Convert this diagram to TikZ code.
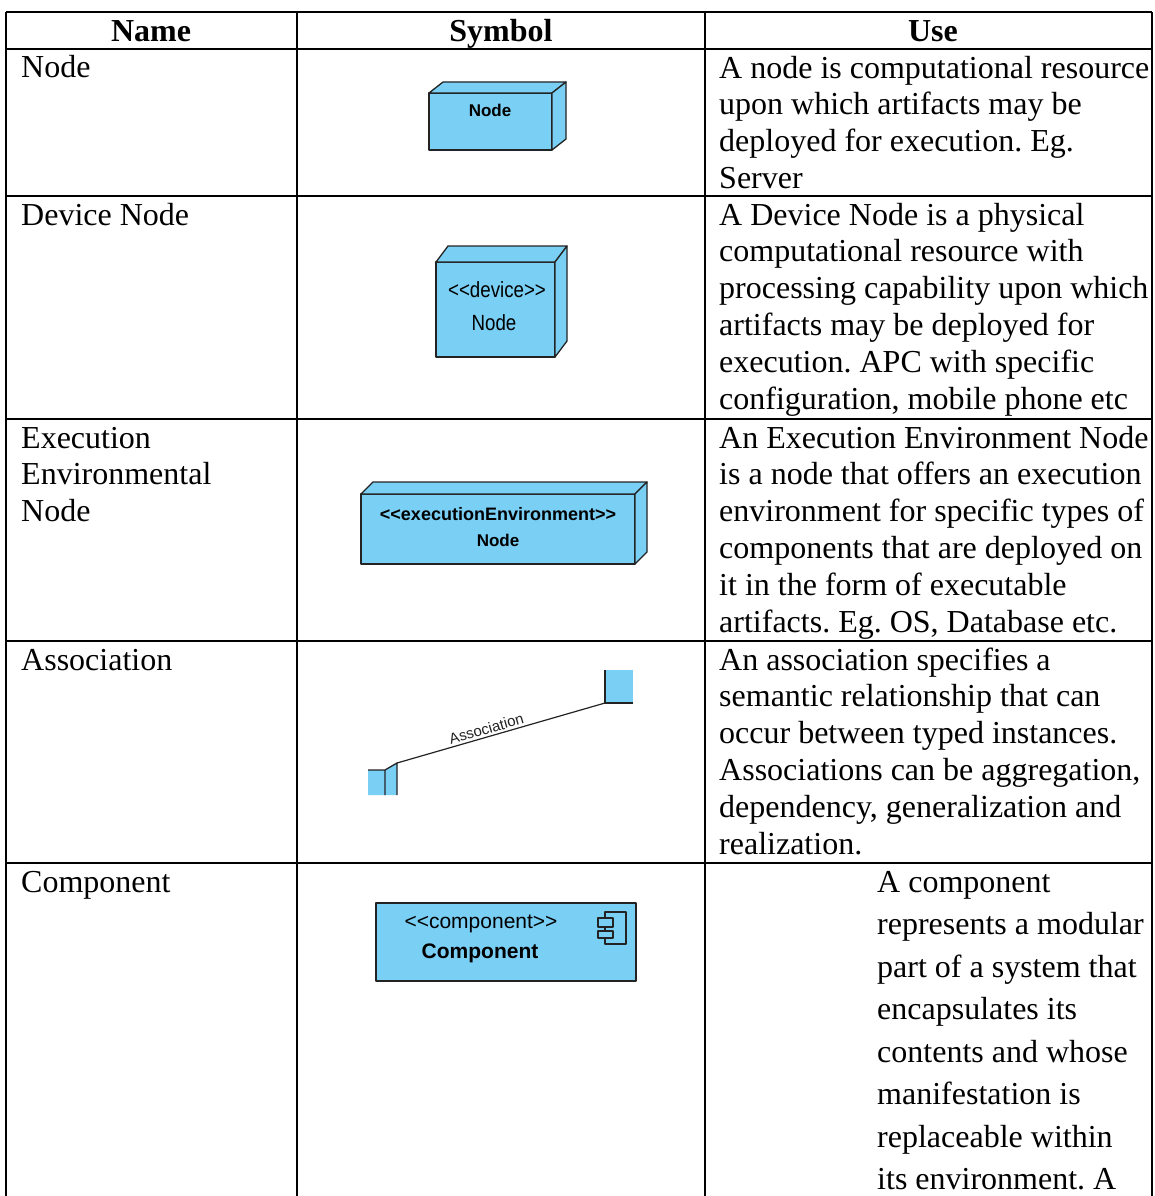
\documentclass[tikz,border=0pt]{standalone}
\usepackage{fontspec}
\usepackage{graphicx}
\usepackage{xcolor}
\setmainfont{Liberation Serif}
\newfontfamily\umlfont{Liberation Sans}
\usetikzlibrary{positioning}
\definecolor{nodeblue}{RGB}{122,207,245}
\definecolor{umledge}{RGB}{35,35,35}
\newcommand{\stereoL}{<\kern0pt<}
\newcommand{\stereoR}{>\kern0pt>}
\frenchspacing

\begin{document}
\begin{tikzpicture}[x=1pt,y=-1pt,
		tableline/.style={draw=black, line width=1.6pt},
		headcell/.style={font=\fontsize{32}{36.8}\selectfont\bfseries, inner sep=0pt, anchor=base},
		% multi-line cells sit on the baseline of their last line
		cell/.style={font=\fontsize{32}{36.8}\selectfont, inner sep=0pt, anchor=base west, align=left},
		umlshape/.style={fill=nodeblue, draw=umledge, line width=1.3pt, line join=round},
		umltext/.style={font=\umlfont\fontsize{#1}{#1}\selectfont, inner sep=0pt},
		umlbold/.style={font=\umlfont\bfseries\fontsize{#1}{#1}\selectfont, inner sep=0pt}]
		\useasboundingbox (0,0) rectangle (1154,1196);

		% table rules
		\draw[tableline] (6,12) -- (1152,12) (6,49) -- (1152,49) (6,196) -- (1152,196)
			(6,419) -- (1152,419) (6,641) -- (1152,641) (6,863) -- (1152,863);
		\draw[tableline] (6,12) -- (6,1200) (297,12) -- (297,1200)
			(705,12) -- (705,1200) (1152,12) -- (1152,1200);

		% header
		\node[headcell] (hname) at (151,42) {Name};
		\node[headcell] (hsymbol) at (501,42) {Symbol};
		\node[headcell] (huse) at (933,42) {Use};

		% names
		\node[cell] (nnode) at (21,78) {Node};
		\node[cell] (ndevice) at (21,225) {Device Node};
		\node[cell] (nexec) at (21,521.6) {Execution\\Environmental\\Node};
		\node[cell] (nassoc) at (21,670) {Association};
		\node[cell] (ncomp) at (21,892) {Component};

		% uses
		\node[cell] (unode) at (719,188.4) {A node is computational resource\\upon which artifacts may be\\deployed for execution. Eg.\\Server};
		\node[cell] (udevice) at (719,409) {A Device Node is a physical\\computational resource with\\processing capability upon which\\artifacts may be deployed for\\execution. APC with specific\\configuration, mobile phone etc};
		\node[cell] (uexec) at (719,632) {An Execution Environment Node\\is a node that offers an execution\\environment for specific types of\\components that are deployed on\\it in the form of executable\\artifacts. Eg. OS, Database etc.};
		\node[cell] (uassoc) at (719,854) {An association specifies a\\semantic relationship that can\\occur between typed instances.\\Associations can be aggregation,\\dependency, generalization and\\realization.};
		\node[cell, font=\fontsize{32}{42.5}\selectfont] (ucomp) at (877,1189.5) {A component\\represents a modular\\part of a system that\\encapsulates its\\contents and whose\\manifestation is\\replaceable within\\its environment. A};

		% node symbol
		\draw[umlshape] (429,93) rectangle (552,150);
		\draw[umlshape] (429,93) -- (443,82) -- (566,82) -- (552,93) -- cycle;
		\draw[umlshape] (552,93) -- (566,82) -- (566,139) -- (552,150) -- cycle;
		\node[umlbold=17] (snode) at (490,110) {Node};

		% device node symbol
		\draw[umlshape] (436,262) rectangle (555,357);
		\draw[umlshape] (436,262) -- (448,246) -- (567,246) -- (555,262) -- cycle;
		\draw[umlshape] (555,262) -- (567,246) -- (567,341) -- (555,357) -- cycle;
		\node[umltext=22] (sdevst) at (497,290) {\scalebox{0.85}[1]{\stereoL device\stereoR}};
		\node[umltext=22] (sdevname) at (494,323) {\scalebox{0.85}[1]{Node}};

		% execution environment symbol
		\draw[umlshape] (361,494) rectangle (635,564);
		\draw[umlshape] (361,494) -- (373,482) -- (647,482) -- (635,494) -- cycle;
		\draw[umlshape] (635,494) -- (647,482) -- (647,552) -- (635,564) -- cycle;
		\node[umlbold=18] (sexecst) at (498,514) {\stereoL executionEnvironment\stereoR};
		\node[umlbold=17] (sexecname) at (498,540) {Node};

		% association symbol
		\coordinate (assocA) at (397,763);
		\coordinate (assocB) at (605,703);
		\fill[nodeblue] (605,670) rectangle (633,703);
		\draw[umledge, line width=1.3pt] (605,670) -- (605,703) -- (633,703);
		\fill[nodeblue] (368,770) -- (385,770) -- (397,763) -- (397,795) -- (368,795) -- cycle;
		\draw[umledge, line width=1.3pt] (368,770) -- (385,770) -- (397,763) -- (397,795) (385,770) -- (385,795);
		\draw[umledge, line width=1.2pt] (assocA) -- node[sloped, above, pos=0.44, umltext=15, inner sep=2pt] (assoclabel) {Association} (assocB);

		% component symbol
		\draw[umlshape] (376,903) rectangle (636,981);
		\node[umltext=21] (scompst) at (481,924) {\stereoL component\stereoR};
		\node[umlbold=21] (scompname) at (480,953) {Component};
		\draw[umlshape, line width=1.1pt] (605,912) rectangle (626,944);
		\draw[umlshape, line width=1.1pt] (598,918) rectangle (613,927);
		\draw[umlshape, line width=1.1pt] (598,931) rectangle (613,938);
\end{tikzpicture}
\end{document}
